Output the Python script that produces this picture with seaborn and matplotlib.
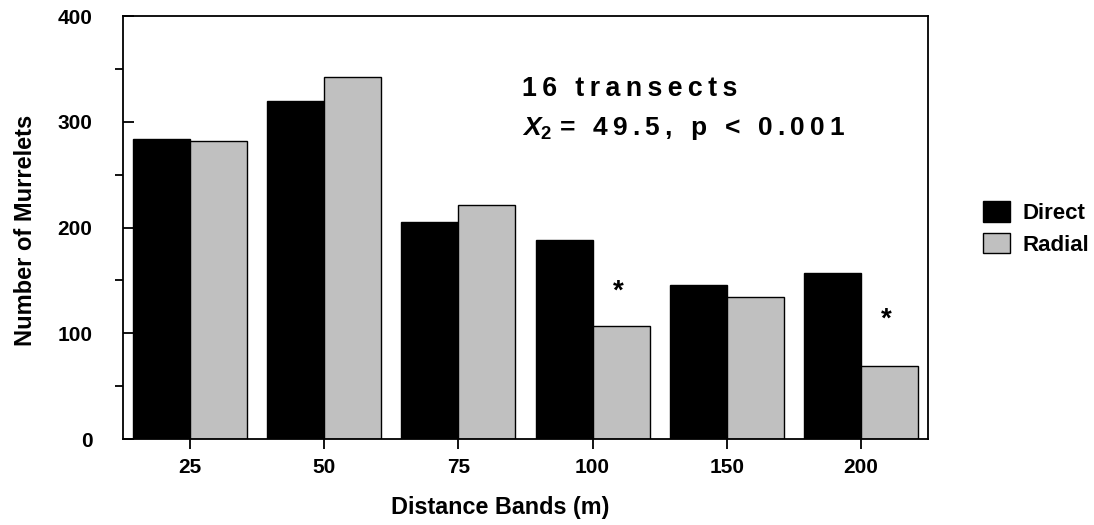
import matplotlib
matplotlib.use('Agg')
import matplotlib.pyplot as plt
import pandas as pd
import seaborn as sns
from matplotlib.ticker import MultipleLocator

# Data
bands = ['25', '50', '75', '100', '150', '200']
direct = [284, 320, 205, 188, 146, 157]
radial = [282, 342, 221, 107, 134, 69]
sig_bands = ['100', '200']
sig_y = [139, 113]

df = pd.DataFrame({
  'band': bands * 2,
  'count': direct + radial,
  'method': ['Direct'] * len(bands) + ['Radial'] * len(bands),
})

sns.set_style('ticks')
plt.rcParams['font.family'] = ['Liberation Sans', 'DejaVu Sans']
plt.rcParams['font.weight'] = 'bold'
plt.rcParams['text.color'] = 'black'
plt.rcParams['axes.labelcolor'] = 'black'
plt.rcParams['xtick.color'] = 'black'
plt.rcParams['ytick.color'] = 'black'
plt.rcParams['axes.edgecolor'] = 'black'
plt.rcParams['mathtext.fontset'] = 'custom'
plt.rcParams['mathtext.it'] = 'Liberation Sans:italic'
plt.rcParams['mathtext.rm'] = 'Liberation Sans:bold'


def spaced(s):
  # letter-spaced text like the original annotation
  return '\u2009'.join(s)


fig = plt.figure(figsize=(10.94, 5.25), dpi=100)
ax = fig.add_axes([0.1124, 0.1638, 0.7359, 0.8057])

sns.barplot(data=df, x='band', y='count', hue='method', order=bands,
            palette=['black', '#c0c0c0'], edgecolor='black', linewidth=1,
            width=0.85, saturation=1, ax=ax)

# Significance markers above radial bars
for b, y in zip(sig_bands, sig_y):
  ax.text(bands.index(b) + 0.19, y, '*', ha='center', va='center',
          fontsize=20, fontweight='bold')

ax.set_xlim(-0.5, 5.5)
ax.set_ylim(0, 400)
ax.yaxis.set_major_locator(MultipleLocator(100))
ax.yaxis.set_minor_locator(MultipleLocator(50))
ax.tick_params(axis='y', which='major', direction='in', length=8, width=1.3,
               labelsize=15, pad=22)
ax.tick_params(axis='y', which='minor', direction='out', length=6, width=1.3)
ax.tick_params(axis='x', which='major', direction='out', length=7, width=1.3,
               labelsize=15, pad=7)
for lab in ax.get_xticklabels() + ax.get_yticklabels():
  lab.set_fontweight('bold')
for s in ax.spines.values():
  s.set_visible(True)
  s.set_linewidth(1.3)

ax.set_xlabel('Distance Bands (m)', fontsize=16.8, fontweight='bold')
ax.set_ylabel('Number of Murrelets', fontsize=17, fontweight='bold')
ax.xaxis.set_label_coords(0.468, -0.134)
ax.yaxis.set_label_coords(-0.107, 0.494)

ax.text(0.496, 0.828, spaced('16 transects'), transform=ax.transAxes,
        fontsize=19.3, fontweight='bold', ha='left', va='center')
ax.text(0.496, 0.735, r'$\mathit{X}_{\mathregular{2}}$ ' + spaced('= 49.5, p < 0.001'),
        transform=ax.transAxes, fontsize=19, fontweight='bold', ha='left',
        va='center')

handles, labels = ax.get_legend_handles_labels()
ax.legend(handles, labels, loc='center left', bbox_to_anchor=(0.880, 0.565),
          bbox_transform=fig.transFigure, frameon=False, fontsize=16,
          handlelength=1.25, handleheight=1.05, handletextpad=0.55,
          labelspacing=0.4)

fig.savefig('out.png', dpi=100)
